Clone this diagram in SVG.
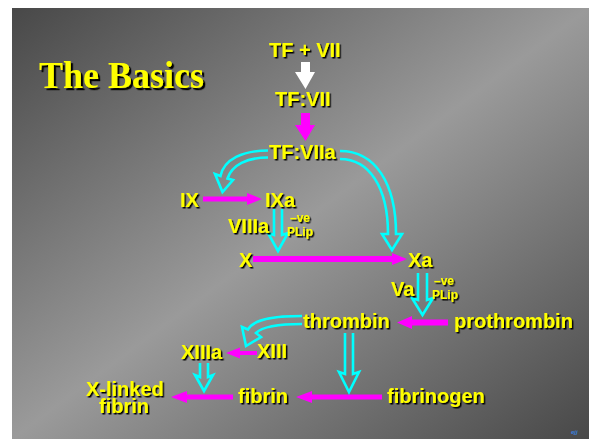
<svg xmlns="http://www.w3.org/2000/svg" width="589" height="439" viewBox="0 0 589 439">
<defs>
<linearGradient id="bg" x1="0" y1="0" x2="1" y2="1">
<stop offset="0" stop-color="#484848"/>
<stop offset="0.5" stop-color="#9a9a9a"/>
<stop offset="1" stop-color="#484848"/>
</linearGradient>
<filter id="sh" x="-10%" y="-20%" width="130%" height="150%">
<feDropShadow dx="1.5" dy="1.5" stdDeviation="0.2" flood-color="#000" flood-opacity="1"/>
</filter>
<filter id="sh2" x="-10%" y="-20%" width="130%" height="150%">
<feDropShadow dx="2.2" dy="2.2" stdDeviation="0.3" flood-color="#000" flood-opacity="1"/>
</filter>
</defs>
<style>
.t{font-family:"Liberation Sans",Arial,sans-serif;font-weight:bold;font-size:20px;fill:#ffff00;filter:url(#sh)}
.s{font-size:12px}
.title{font-family:"Liberation Serif","Times New Roman",serif;font-weight:bold;font-size:38px;fill:#ffff00;filter:url(#sh2)}
.mag{fill:#ff00ff}
.cy{fill:none;stroke:#00ffff;stroke-width:2.6;stroke-linejoin:miter;stroke-linecap:butt}
</style>
<rect x="0" y="0" width="589" height="439" fill="#ffffff"/>
<rect x="12" y="8" width="577" height="431" fill="url(#bg)"/>
<text class="title" x="39" y="88" textLength="165" lengthAdjust="spacingAndGlyphs">The Basics</text>

<g id="connectors">
<path d="M301,62 H310 V72 H315 L305.5,89 L295,72 H301 Z" fill="#ffffff"/>
<path class="mag" d="M301,113 H310 V125 H315 L305.5,141 L295,125 H301 Z"/>
<path class="mag" d="M203,196.5 H247 V193 L262,199 L247,205 V201.5 H203 Z"/>
<path class="mag" d="M253,256 H392 V253 L407,259 L392,265 V262 H253 Z"/>
<path class="mag" d="M448,319.5 H412 V316 L397,322.5 L412,329 V325.5 H448 Z"/>
<path class="mag" d="M257,351 H240 V347.5 L226,353 L240,358.5 V355 H257 Z"/>
<path class="mag" d="M233,394.5 H187 V391 L171,397 L187,403 V399.5 H233 Z"/>
<path class="mag" d="M382,394.5 H312 V391 L296,397 L312,403 V399.5 H382 Z"/>

<path class="cy" d="M268,150.5 C243,150.5 224,159 220.5,176 L215,174 L222.5,192 L233,180 L227.5,178.5 C232,165 247,157.5 268,157.5"/>
<path class="cy" d="M340,151 C375,151 396,183 396,234 L402,234 L392,250 L382,234 L388,234 C388,187 369,159 340,159"/>
<path class="cy" d="M274,209 V235 L268,233 L278,251 L288,233 L282,235 V209"/>
<path class="cy" d="M418,273 V300 L412,298 L422.5,315 L433,298 L427,300 V273"/>
<path class="cy" d="M302,316 C278,316 254,318 248,329.5 L242,327 L246,346 L261,337 L256,333 C263,326 282,324 302,324"/>
<path class="cy" d="M345,333 V374 L339,372 L349,392 L359,372 L353,374 V333"/>
<path class="cy" d="M200,363 V377 L195,375 L204,391 L213,375 L208,377 V363"/>
</g>

<g id="tf_vii"><text class="t" x="269" y="57">TF + VII</text></g>
<g id="tf_vii_complex"><text class="t" x="275" y="106">TF:VII</text></g>
<g id="tf_viia"><text class="t" x="269" y="159">TF:VIIa</text></g>
<g id="ix"><text class="t" x="180" y="207">IX</text></g>
<g id="ixa"><text class="t" x="265" y="207">IXa</text></g>
<g id="viiia"><text class="t" x="228" y="233">VIIIa</text></g>
<g id="cofactor1"><text class="t s" x="290" y="222">–ve</text><text class="t s" x="287" y="236">PLip</text></g>
<g id="x"><text class="t" x="239" y="267">X</text></g>
<g id="xa"><text class="t" x="408" y="267">Xa</text></g>
<g id="va"><text class="t" x="391" y="296">Va</text></g>
<g id="cofactor2"><text class="t s" x="434" y="285">–ve</text><text class="t s" x="432" y="299">PLip</text></g>
<g id="thrombin"><text class="t" x="303" y="328">thrombin</text></g>
<g id="prothrombin"><text class="t" x="454" y="328">prothrombin</text></g>
<g id="xiii"><text class="t" x="257" y="358">XIII</text></g>
<g id="xiiia"><text class="t" x="181" y="359">XIIIa</text></g>
<g id="xlinked_fibrin"><text class="t" x="86" y="396">X-linked</text><text class="t" x="99" y="413">fibrin</text></g>
<g id="fibrin"><text class="t" x="238" y="403">fibrin</text></g>
<g id="fibrinogen"><text class="t" x="387" y="403">fibrinogen</text></g>
<text x="571" y="434" font-family="Liberation Sans,Arial,sans-serif" font-size="6" font-weight="bold" font-style="italic" fill="#3a7fd8">ejj</text>
</svg>
